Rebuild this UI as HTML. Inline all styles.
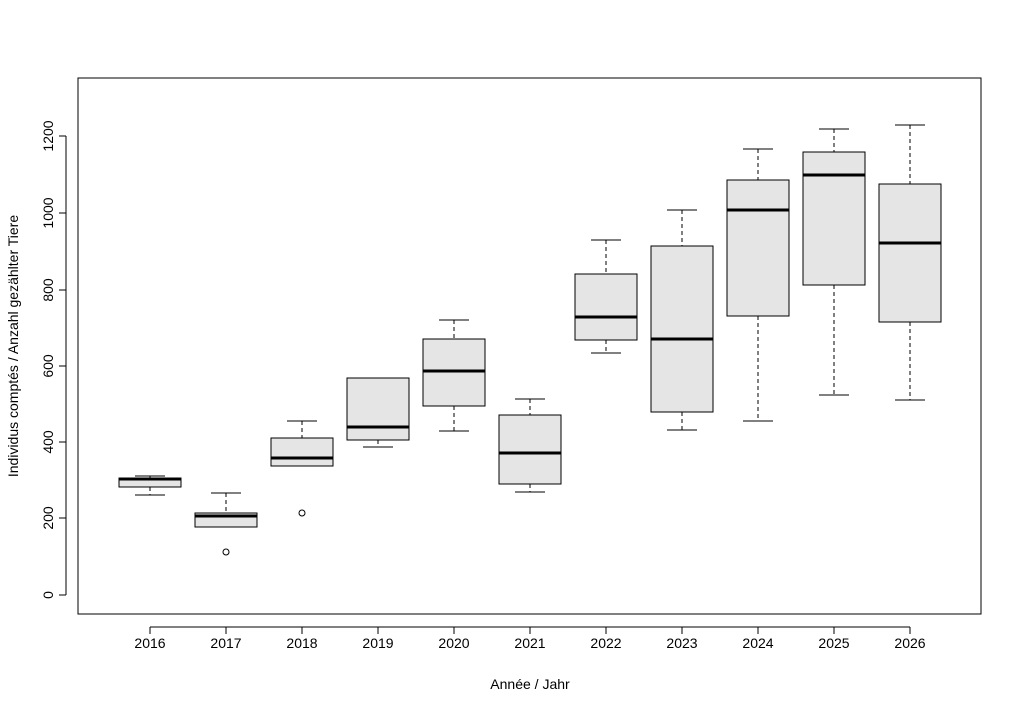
<!DOCTYPE html>
<html><head><meta charset="utf-8"><style>html,body{margin:0;background:#fff}svg{display:block}</style></head><body>
<svg width="1021" height="711" xmlns="http://www.w3.org/2000/svg" font-family="Liberation Sans, sans-serif" font-size="14">
<rect width="1021" height="711" fill="#fff"/>
<rect x="78" y="78" width="903" height="536" fill="none" stroke="#000"/>
<g stroke="#000" fill="none">
<line x1="66" y1="595" x2="66" y2="136"/>
<line x1="59" y1="595" x2="66" y2="595"/><line x1="59" y1="518" x2="66" y2="518"/><line x1="59" y1="442" x2="66" y2="442"/><line x1="59" y1="366" x2="66" y2="366"/><line x1="59" y1="290" x2="66" y2="290"/><line x1="59" y1="213" x2="66" y2="213"/><line x1="59" y1="136" x2="66" y2="136"/>
<line x1="150" y1="627" x2="910" y2="627"/>
<line x1="150" y1="627" x2="150" y2="634"/><line x1="226" y1="627" x2="226" y2="634"/><line x1="302" y1="627" x2="302" y2="634"/><line x1="378" y1="627" x2="378" y2="634"/><line x1="454" y1="627" x2="454" y2="634"/><line x1="530" y1="627" x2="530" y2="634"/><line x1="606" y1="627" x2="606" y2="634"/><line x1="682" y1="627" x2="682" y2="634"/><line x1="758" y1="627" x2="758" y2="634"/><line x1="834" y1="627" x2="834" y2="634"/><line x1="910" y1="627" x2="910" y2="634"/>
</g>
<g fill="#000" text-anchor="middle">
<text transform="translate(53,595) rotate(-90)">0</text>
<text transform="translate(53,518) rotate(-90)">200</text>
<text transform="translate(53,442) rotate(-90)">400</text>
<text transform="translate(53,366) rotate(-90)">600</text>
<text transform="translate(53,290) rotate(-90)">800</text>
<text transform="translate(53,213) rotate(-90)">1000</text>
<text transform="translate(53,136) rotate(-90)">1200</text>
<text transform="translate(18,346) rotate(-90)">Individus comptés / Anzahl gezählter Tiere</text>
<text x="530" y="689">Année / Jahr</text>
<text x="150" y="648">2016</text><text x="226" y="648">2017</text><text x="302" y="648">2018</text><text x="378" y="648">2019</text><text x="454" y="648">2020</text><text x="530" y="648">2021</text><text x="606" y="648">2022</text><text x="682" y="648">2023</text><text x="758" y="648">2024</text><text x="834" y="648">2025</text><text x="910" y="648">2026</text>
</g>
<g stroke="#000" stroke-dasharray="4,3">
<line x1="150" y1="476" x2="150" y2="478"/><line x1="150" y1="487" x2="150" y2="495"/>
<line x1="226" y1="493" x2="226" y2="513"/>
<line x1="302" y1="421" x2="302" y2="438"/>
<line x1="378" y1="440" x2="378" y2="447"/>
<line x1="454" y1="320" x2="454" y2="339"/><line x1="454" y1="406" x2="454" y2="431"/>
<line x1="530" y1="399" x2="530" y2="415"/><line x1="530" y1="484" x2="530" y2="492"/>
<line x1="606" y1="240" x2="606" y2="274"/><line x1="606" y1="340" x2="606" y2="353"/>
<line x1="682" y1="210" x2="682" y2="246"/><line x1="682" y1="412" x2="682" y2="430"/>
<line x1="758" y1="149" x2="758" y2="180"/><line x1="758" y1="316" x2="758" y2="421"/>
<line x1="834" y1="129" x2="834" y2="152"/><line x1="834" y1="285" x2="834" y2="395"/>
<line x1="910" y1="125" x2="910" y2="184"/><line x1="910" y1="322" x2="910" y2="400"/>
</g>
<g stroke="#000">
<line x1="135" y1="476" x2="165" y2="476"/><line x1="135" y1="495" x2="165" y2="495"/>
<line x1="211" y1="493" x2="241" y2="493"/>
<line x1="287" y1="421" x2="317" y2="421"/>
<line x1="363" y1="378" x2="393" y2="378"/><line x1="363" y1="447" x2="393" y2="447"/>
<line x1="439" y1="320" x2="469" y2="320"/><line x1="439" y1="431" x2="469" y2="431"/>
<line x1="515" y1="399" x2="545" y2="399"/><line x1="515" y1="492" x2="545" y2="492"/>
<line x1="591" y1="240" x2="621" y2="240"/><line x1="591" y1="353" x2="621" y2="353"/>
<line x1="667" y1="210" x2="697" y2="210"/><line x1="667" y1="430" x2="697" y2="430"/>
<line x1="743" y1="149" x2="773" y2="149"/><line x1="743" y1="421" x2="773" y2="421"/>
<line x1="819" y1="129" x2="849" y2="129"/><line x1="819" y1="395" x2="849" y2="395"/>
<line x1="895" y1="125" x2="925" y2="125"/><line x1="895" y1="400" x2="925" y2="400"/>
</g>
<g fill="#e5e5e5" stroke="#000">
<rect x="119" y="478" width="62" height="9"/>
<rect x="195" y="513" width="62" height="14"/>
<rect x="271" y="438" width="62" height="28"/>
<rect x="347" y="378" width="62" height="62"/>
<rect x="423" y="339" width="62" height="67"/>
<rect x="499" y="415" width="62" height="69"/>
<rect x="575" y="274" width="62" height="66"/>
<rect x="651" y="246" width="62" height="166"/>
<rect x="727" y="180" width="62" height="136"/>
<rect x="803" y="152" width="62" height="133"/>
<rect x="879" y="184" width="62" height="138"/>
</g>
<g stroke="#000" stroke-width="3">
<line x1="119" y1="479" x2="181" y2="479"/>
<line x1="195" y1="516" x2="257" y2="516"/>
<line x1="271" y1="458" x2="333" y2="458"/>
<line x1="347" y1="427" x2="409" y2="427"/>
<line x1="423" y1="371" x2="485" y2="371"/>
<line x1="499" y1="453" x2="561" y2="453"/>
<line x1="575" y1="317" x2="637" y2="317"/>
<line x1="651" y1="339" x2="713" y2="339"/>
<line x1="727" y1="210" x2="789" y2="210"/>
<line x1="803" y1="175" x2="865" y2="175"/>
<line x1="879" y1="243" x2="941" y2="243"/>
</g>
<circle cx="226" cy="552" r="3" fill="none" stroke="#000"/><circle cx="302" cy="513" r="3" fill="none" stroke="#000"/>
</svg>
</body></html>
